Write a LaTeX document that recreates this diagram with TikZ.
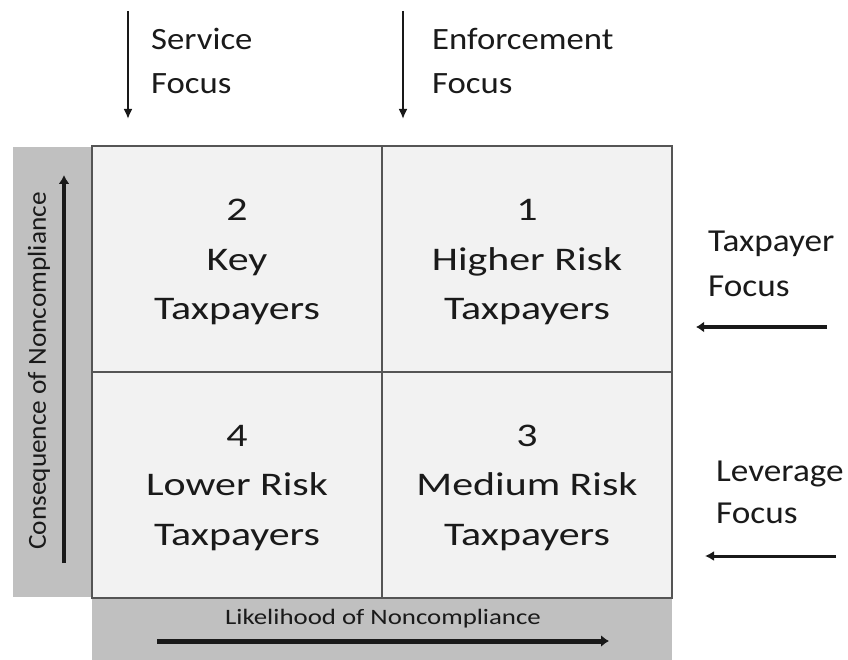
\documentclass[tikz,border=0pt]{standalone}
\usepackage{fontspec}
\setmainfont{Carlito}
\newfontfamily\cellfont[FakeStretch=1.27]{Carlito}
\newfontfamily\topfont[FakeStretch=1.12]{Carlito}
\newfontfamily\rightfont[FakeStretch=1.1]{Carlito}
\newfontfamily\xfont[FakeStretch=1.22]{Carlito}
\newfontfamily\yfont[FakeStretch=1.05]{Carlito}
\usetikzlibrary{arrows.meta}
\definecolor{barGray}{HTML}{C0C0C0}
\definecolor{cellFill}{HTML}{F2F2F2}
\definecolor{gridLine}{HTML}{555555}
\definecolor{txt}{HTML}{1A1A1A}
\tikzset{
  cell/.style={draw=gridLine, line width=2pt, fill=cellFill, minimum width=290pt, minimum height=225.5pt, inner sep=0pt},
  celltext/.style={inner sep=0pt, align=center, text=txt, font=\cellfont\fontsize{33}{49.5}\selectfont},
  focus/.style={anchor=north west, inner sep=0pt, align=left, text=txt},
  arr/.style={draw=black!90, -{Latex[length=10pt,width=9pt]}}
}
\begin{document}
\begin{tikzpicture}[x=1pt,y=-1pt]
\useasboundingbox (0,0) rectangle (848,660);
% gray bars
\fill[barGray] (13,147) rectangle (92,597);
\fill[barGray] (92,597) rectangle (672,660);
% cells
\node[cell] (c2) at (237,259.25) {};
\node[cell] (c1) at (527,259.25) {};
\node[cell] (c4) at (237,484.75) {};
\node[cell] (c3) at (527,484.75) {};
\node[celltext] (t2) at ([yshift=-3pt]c2.center) {2\\Key\\Taxpayers};
\node[celltext] (t1) at ([yshift=-3pt]c1.center) {1\\Higher Risk\\Taxpayers};
\node[celltext] (t4) at ([yshift=-3pt]c4.center) {4\\Lower Risk\\Taxpayers};
\node[celltext] (t3) at ([yshift=-3pt]c3.center) {3\\Medium Risk\\Taxpayers};
% axis labels
\node[text=txt, font=\yfont\fontsize{26}{30}\selectfont, rotate=90, inner sep=0pt] (ylab) at (39,371) {Consequence of Noncompliance};
\node[text=txt, font=\xfont\fontsize{22}{25}\selectfont, inner sep=0pt] (xlab) at (383,619) {Likelihood of Noncompliance};
\coordinate (ya) at (64,563);
\coordinate (yb) at (64,175);
\draw[arr, line width=4pt, -{Latex[length=9pt,width=11pt]}] (ya) -- (yb);
\coordinate (xa) at (157,641);
\coordinate (xb) at (609,641);
\draw[arr, line width=5pt, -{Latex[length=8pt,width=12pt]}] (xa) -- (xb);
% top focus
\node[focus, font=\topfont\fontsize{31}{44}\selectfont] (sf) at (151,28) {Service\\Focus};
\node[focus, font=\topfont\fontsize{31}{44}\selectfont] (ef) at (432,28) {Enforcement\\Focus};
\coordinate (s1) at (128,11);
\coordinate (s2) at (128,119);
\draw[arr, line width=2pt] (s1) -- (s2);
\coordinate (e1) at (403,11);
\coordinate (e2) at (403,119);
\draw[arr, line width=2pt] (e1) -- (e2);
% right focus
\node[focus, font=\rightfont\fontsize{32}{45}\selectfont] (tf) at (708,231) {Taxpayer\\Focus};
\node[focus, font=\rightfont\fontsize{32}{42}\selectfont] (lf) at (716,461) {Leverage\\Focus};
\coordinate (r1) at (827,327);
\coordinate (r2) at (696,327);
\draw[arr, line width=4.5pt, -{Latex[length=8pt,width=11pt]}] (r1) -- (r2);
\coordinate (l1) at (836,556);
\coordinate (l2) at (705,556);
\draw[arr, line width=3pt, -{Latex[length=9pt,width=10pt]}] (l1) -- (l2);
\end{tikzpicture}
\end{document}
